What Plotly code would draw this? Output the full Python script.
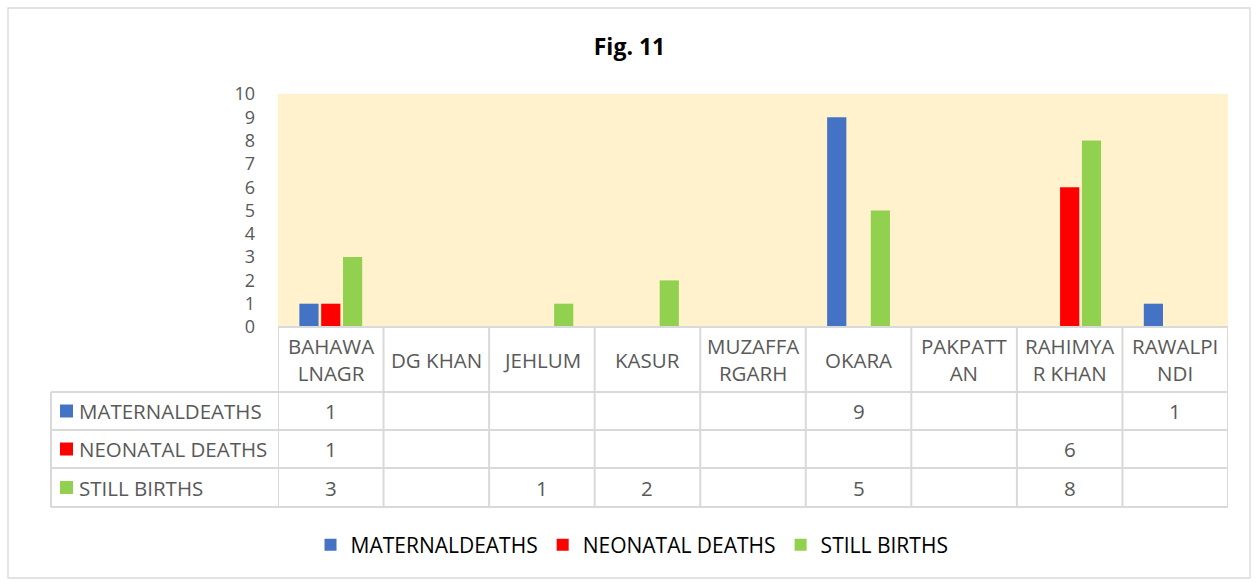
import plotly.graph_objects as go

# ---- data ----
categories = ["BAHAWALNAGR", "DG KHAN", "JEHLUM", "KASUR", "MUZAFFARGARH",
              "OKARA", "PAKPATTAN", "RAHIMYAR KHAN", "RAWALPINDI"]
header_labels = ["BAHAWA<br>LNAGR", "DG KHAN", "JEHLUM", "KASUR", "MUZAFFA<br>RGARH",
                 "OKARA", "PAKPATT<br>AN", "RAHIMYA<br>R KHAN", "RAWALPI<br>NDI"]
series_names = ["MATERNALDEATHS", "NEONATAL DEATHS", "STILL BIRTHS"]
maternal_deaths = [1, None, None, None, None, 9, None, None, 1]
neonatal_deaths = [1, None, None, None, None, None, None, 6, None]
still_births = [3, None, 1, 2, None, 5, None, 8, None]
colors = ["#4472C4", "#FF0000", "#92D050"]

W, H = 1259, 583
FONT = "Open Sans"
TXT = "#595959"
GRID = "#D9D9D9"

def px(x):
    return x / W

def py(y):
    return 1 - y / H

plot_left, plot_right = 278, 1228
plot_top, plot_bottom = 94, 327
row_edges = [327, 392, 430, 468, 507]
table_left = 51

fig = go.Figure()
all_series = [maternal_deaths, neonatal_deaths, still_births]
for name, vals, col in zip(series_names, all_series, colors):
    fig.add_trace(go.Bar(x=categories, y=vals, name=name, marker_color=col,
                         marker_line_width=0))

shapes = []
annotations = []
n = len(categories)

# outer border
shapes.append(dict(type="rect", xref="paper", yref="paper",
                   x0=px(8), x1=px(1250), y0=py(578), y1=py(8),
                   line=dict(color=GRID, width=1.3)))

# horizontal table lines
for i, y in enumerate(row_edges):
    x0 = plot_left if i == 0 else table_left
    shapes.append(dict(type="line", xref="paper", yref="paper",
                       x0=px(x0), x1=px(plot_right), y0=py(y), y1=py(y),
                       line=dict(color=GRID, width=2)))
# vertical table lines (category boundaries via x axis)
for i in range(n + 1):
    shapes.append(dict(type="line", xref="x", yref="paper",
                       x0=i - 0.5, x1=i - 0.5, y0=py(row_edges[0]), y1=py(row_edges[-1]),
                       line=dict(color=GRID, width=2)))
shapes.append(dict(type="line", xref="paper", yref="paper",
                   x0=px(table_left), x1=px(table_left), y0=py(row_edges[1]), y1=py(row_edges[-1]),
                   line=dict(color=GRID, width=2)))

TABLE_FONT = dict(family=FONT, size=20.5, color=TXT)

# header labels
for i, lab in enumerate(header_labels):
    annotations.append(dict(xref="x", yref="paper", x=categories[i],
                            y=py((row_edges[0] + row_edges[1]) / 2), text=lab,
                            showarrow=False, xanchor="center", yanchor="middle",
                            font=TABLE_FONT))

# series rows
for r, (name, vals, col) in enumerate(zip(series_names, all_series, colors)):
    yc = py((row_edges[r + 1] + row_edges[r + 2]) / 2)
    shapes.append(dict(type="rect", xref="paper", yref="paper",
                       x0=px(60), x1=px(73), y0=yc - 6.5 / H, y1=yc + 6.5 / H,
                       fillcolor=col, line=dict(width=0)))
    annotations.append(dict(xref="paper", yref="paper", x=px(77), y=yc, text=name,
                            showarrow=False, xanchor="left", yanchor="middle",
                            font=TABLE_FONT))
    for i, v in enumerate(vals):
        if v is not None:
            annotations.append(dict(xref="x", yref="paper", x=categories[i], y=yc,
                                    text=str(v), showarrow=False, xanchor="center",
                                    yanchor="middle", font=TABLE_FONT))

fig.update_layout(
    width=W, height=H,
    margin=dict(l=0, r=0, t=0, b=0, autoexpand=False),
    paper_bgcolor="white",
    plot_bgcolor="#FFF2CC",
    title=dict(text="<b>Fig. 11</b>", x=0.5, xanchor="center", y=py(47), yanchor="middle",
               font=dict(family=FONT, size=23, color="black")),
    barmode="group",
    bargap=0.38,
    bargroupgap=0.12,
    showlegend=True,
    legend=dict(orientation="h", x=0.502, xanchor="center", y=py(545), yanchor="middle",
                font=dict(family=FONT, size=21, color="black"),
                itemwidth=30, traceorder="normal"),
    xaxis=dict(domain=[px(plot_left), px(plot_right)], showticklabels=False,
               showline=False, showgrid=False, zeroline=False, ticks="",
               range=[-0.5, n - 0.5], automargin=False),
    yaxis=dict(domain=[py(plot_bottom), py(plot_top)], range=[0, 10], dtick=1,
               showgrid=False, zeroline=False, showline=False, ticks="",
               tickfont=dict(family=FONT, size=18, color=TXT),
               ticklabelstandoff=22, automargin=False),
    shapes=shapes,
    annotations=annotations,
)

fig.write_html("out.html", config={"displayModeBar": False},
               post_script="document.body.style.margin='0';")
